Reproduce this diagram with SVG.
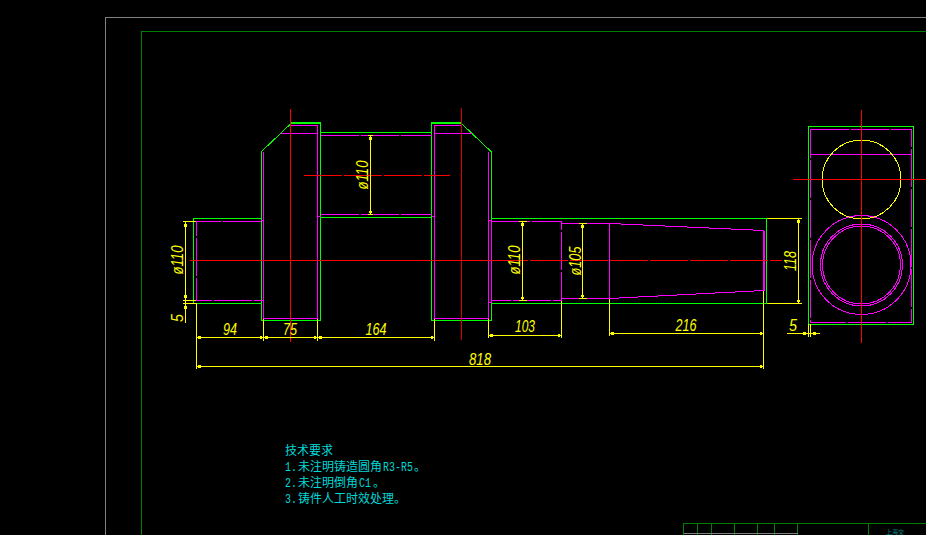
<svg xmlns="http://www.w3.org/2000/svg" width="926" height="535" viewBox="0 0 926 535" shape-rendering="crispEdges">
<style>
.g{fill:none;stroke:#00ff00;stroke-width:1}
.m{fill:none;stroke:#ff00ff;stroke-width:1;stroke-dasharray:38 2}
.s{fill:none;stroke:#ff00ff;stroke-width:1}
.r{fill:none;stroke:#ff0000;stroke-width:1}
.rd{fill:none;stroke:#ff0000;stroke-width:1;stroke-dasharray:38 2}
.y{fill:none;stroke:#ffff00;stroke-width:1}
.d{fill:none;stroke:#ffff00;stroke-width:1;marker-start:url(#t);marker-end:url(#t)}
.f{fill:none;stroke:#808080;stroke-width:1}
.tb{fill:none;stroke:#008000;stroke-width:1}
.t{fill:#ffff00;font-family:"Liberation Sans",sans-serif;font-style:italic;font-size:17px;text-anchor:middle}
.n{fill:#00d8d8;font-family:"Noto Sans CJK SC","Liberation Sans",sans-serif;font-size:12px}
.l{fill:#00d8d8;font-family:"Liberation Mono",monospace;font-size:12px}
</style>
<defs>
<marker id="t" markerUnits="userSpaceOnUse" orient="auto-start-reverse" overflow="visible" markerWidth="6" markerHeight="4" refX="0" refY="0">
<rect x="-4" y="-1.200" width="2.600" height="2.400" fill="#ffff00"/>
</marker>
</defs>
<rect width="926" height="535" fill="#000"/>
<g id="frame">
<path class="f" d="M105.500 535V17.500H926"/>
<path class="tb" d="M141.500 535V31.500H926"/>
</g>
<g id="title-block">
<path class="tb" d="M683.500 535V523.500H926M697.500 523.500V535M711.500 523.500V535M734.500 523.500V535M757.500 523.500V535M774.500 523.500V535M797.500 523.500V535M868.500 523.500V535"/>
<path class="f" d="M683.500 533.500H797.500"/>
<text x="886" y="533.500" fill="#008b8b" font-family="'Noto Sans CJK SC',sans-serif" font-size="6px">上海交</text>
</g>
<g id="front-view">
<path class="g" d="M260.500 218.500H193.500V303.500H260.500"/>
<path class="g" d="M291 122.500H320.500V320.500H261V152L291 123.500H320.500"/>
<path class="g" d="M320.500 132.500H431.500M320.500 217.500H431.500"/>
<path class="g" d="M461.500 122.500H431.500V320.500H491.500V152L461.500 123.500H431.500"/>
<path class="g" d="M491.500 218.500H766.500V303.500H491.500M766.500 218.500V303.500"/>
<path class="m" d="M260.500 221.500H196.500V300.500H260.500"/>
<path class="s" d="M263.500 152V318.500H317.500V125.500H291"/>
<path class="s" d="M280.500 133.500H317.500"/>
<path class="m" d="M320.500 135.500H431.500M320.500 214.500H431.500"/>
<path class="s" d="M320.500 216.500H317.500"/>
<path class="s" d="M461.500 125.500H434.500V318.500H488.500V152"/>
<path class="s" d="M434.500 133.500H472"/>
<path class="s" d="M432 216.500H434.500M261 220.500H263.500M261 300.500H263.500M491 220V302H488.500M488.500 220H491"/>
<path class="m" d="M491.500 221.500H561.500V300.500H491.500"/>
<path class="s" d="M561.500 223.500H609.500L763.500 230.500V290.500L609.500 298.500H561.500"/>
<path class="s" d="M609.500 223.500V298.500"/>
<path class="s" d="M764 230.500V290.500" stroke-width="2"/>
</g>
<g id="side-view">
<path class="g" d="M808.500 126.500H913.500V324.500H808.500Z"/>
<path class="m" d="M810.500 129.500H911.500V322.500H810.500Z"/>
<path class="s" d="M810.500 154.500H911.500"/>
<circle class="y" cx="861.500" cy="179.500" r="39.500"/>
<circle class="s" cx="861.500" cy="265" r="49.500"/>
<circle class="s" cx="861.500" cy="265" r="41"/>
<circle class="s" cx="861.500" cy="265" r="39"/>
</g>
<g id="center-lines">
<path class="r" d="M290.500 109V341.500"/>
<path class="r" d="M461.500 108V340" style="stroke:#d80000"/>
<path class="r" d="M190 260.500H490"/>
<path class="rd" d="M490 260.500H782"/>
<path class="rd" d="M304 175.500H450"/>
<path class="r" d="M861.500 110V342.500M793 179.500H926"/>
</g>
<g id="dimensions">
<path class="y" d="M196.500 303V369M263.500 319V340.500M317.500 319V340.500M434.500 319V340.500M488.500 319V338M561.500 301V338M609.500 299V336M763.500 291V369"/>
<path class="y" d="M183 221.500H196M183 300.500H196M183 303.500H196"/>
<path class="y" d="M368 135.500H373M368 214.500H373M519 221.500H527M519 300.500H527M579 223.500H587M579 298.500H587"/>
<path class="y" d="M766.500 218.500H802M766.500 303.500H802M808.500 324V337M810.500 324V337"/>
<path class="d" d="M196.500 337.500H263.500"/>
<path class="d" d="M263.500 337.500H317.500"/>
<path class="d" d="M317.500 337.500H434.500"/>
<path class="d" d="M488.500 335.500H561.500"/>
<path class="d" d="M609.500 333.500H763.500"/>
<path class="d" d="M196.500 366.500H763.500"/>
<path class="y" d="M787 333.500H820"/>
<rect x="803" y="332.300" width="3" height="2.400" fill="#ffff00"/>
<rect x="813" y="332.300" width="3" height="2.400" fill="#ffff00"/>
<path class="y" d="M185.500 221.500V323"/>
<rect x="184.300" y="224" width="2.400" height="3" fill="#ffff00"/>
<rect x="184.300" y="295" width="2.400" height="3" fill="#ffff00"/>
<rect x="184.300" y="306" width="2.400" height="3" fill="#ffff00"/>
<path class="d" d="M370.500 135.500V214.500"/>
<path class="d" d="M522.500 221.500V300.500"/>
<path class="d" d="M582.500 223.500V298.500"/>
<path class="d" d="M798.500 218.500V303.500"/>
<text class="t" x="230" y="335" textLength="14" lengthAdjust="spacingAndGlyphs">94</text>
<text class="t" x="290" y="335" textLength="14" lengthAdjust="spacingAndGlyphs">75</text>
<text class="t" x="376" y="335" textLength="21" lengthAdjust="spacingAndGlyphs">164</text>
<text class="t" x="525" y="332" textLength="20" lengthAdjust="spacingAndGlyphs">103</text>
<text class="t" x="686" y="331" textLength="21" lengthAdjust="spacingAndGlyphs">216</text>
<text class="t" x="480" y="365" textLength="22" lengthAdjust="spacingAndGlyphs">818</text>
<text class="t" x="793" y="331" textLength="8" lengthAdjust="spacingAndGlyphs">5</text>
<text class="t" transform="translate(183 260) rotate(-90)" textLength="29" lengthAdjust="spacingAndGlyphs">ø110</text>
<text class="t" transform="translate(368 175) rotate(-90)" textLength="29" lengthAdjust="spacingAndGlyphs">ø110</text>
<text class="t" transform="translate(520 260) rotate(-90)" textLength="29" lengthAdjust="spacingAndGlyphs">ø110</text>
<text class="t" transform="translate(581 261) rotate(-90)" textLength="29" lengthAdjust="spacingAndGlyphs">ø105</text>
<text class="t" transform="translate(796 261) rotate(-90)" textLength="20" lengthAdjust="spacingAndGlyphs">118</text>
<text class="t" transform="translate(183 318) rotate(-90)" textLength="8" lengthAdjust="spacingAndGlyphs">5</text>
</g>
<g id="notes">
<text class="n" x="285" y="455">技术要求</text>
<text class="l" transform="translate(285 471) scale(.83 1)">1.</text>
<text class="n" x="298" y="471">未注明铸造圆角</text>
<text class="l" transform="translate(383 471) scale(.83 1)">R3-R5</text>
<text class="n" x="414" y="471">。</text>
<text class="l" transform="translate(285 487) scale(.83 1)">2.</text>
<text class="n" x="298" y="487">未注明倒角</text>
<text class="l" transform="translate(359 487) scale(.83 1)">C1</text>
<text class="n" x="373" y="487">。</text>
<text class="l" transform="translate(285 503) scale(.83 1)">3.</text>
<text class="n" x="298" y="503">铸件人工时效处理。</text>
</g>
</svg>
